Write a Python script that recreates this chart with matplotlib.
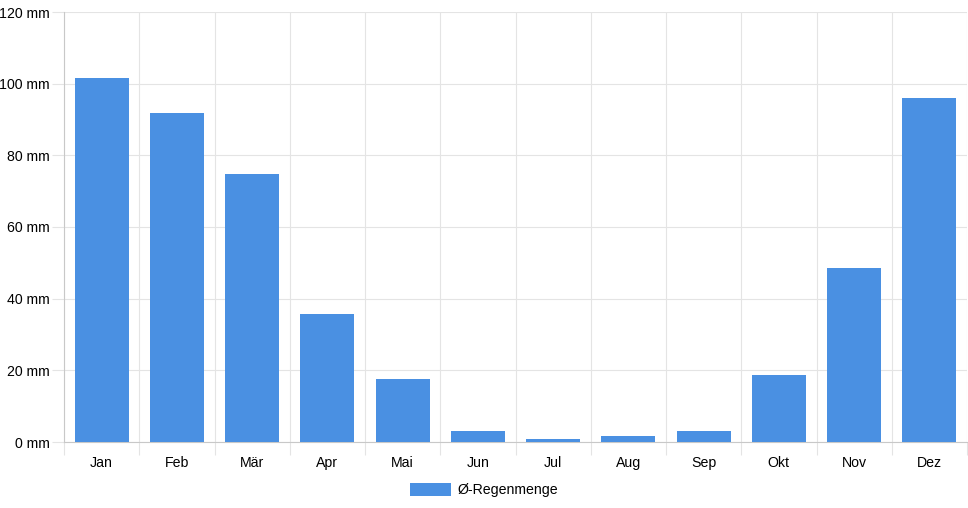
import matplotlib.pyplot as plt
import numpy as np
from matplotlib.patches import Patch

plt.rcParams['font.family'] = ['Liberation Sans', 'DejaVu Sans']

months = ['Jan', 'Feb', 'Mär', 'Apr', 'Mai', 'Jun', 'Jul', 'Aug', 'Sep', 'Okt', 'Nov', 'Dez']
rain = [101.7, 91.7, 74.8, 35.8, 17.7, 3.1, 0.8, 1.6, 3.2, 18.8, 48.6, 96.0]
series_name = 'Ø-Regenmenge'
yticks = [0, 20, 40, 60, 80, 100, 120]

bar_color = '#4a90e2'
grid_color = '#e4e4e4'
fs = 10.2

fig = plt.figure(figsize=(9.68, 5.08), dpi=100)
ax = fig.add_axes([64 / 968, 66 / 508, 903 / 968, 430 / 508])

x = np.arange(len(months))
ax.bar(x, rain, width=0.72, color=bar_color, zorder=3)

ax.set_xlim(-0.5, len(months) - 0.5)
ax.set_ylim(0, 120)

ax.set_yticks(yticks)
ax.set_yticklabels([f'{v} mm' for v in yticks])
ax.set_xticks(x)
ax.set_xticklabels(months)
ax.set_xticks(np.arange(len(months) + 1) - 0.5, minor=True)

ax.tick_params(axis='y', length=9, width=0.8, color=grid_color, labelsize=fs, pad=1.5)
ax.tick_params(axis='x', which='major', length=0, labelsize=fs, pad=10)
ax.tick_params(axis='x', which='minor', length=9, width=0.8, color=grid_color)

ax.grid(axis='y', color=grid_color, linewidth=0.8, zorder=0)
ax.grid(axis='x', which='minor', color=grid_color, linewidth=0.8, zorder=0)

for side in ['top', 'right']:
    ax.spines[side].set_visible(False)
ax.spines['left'].set_color('#c8c8c8')
ax.spines['bottom'].set_color('#c8c8c8')
ax.spines['left'].set_linewidth(0.8)
ax.spines['bottom'].set_linewidth(0.8)

fig.legend(handles=[Patch(facecolor=bar_color, label=series_name)],
           loc='center', bbox_to_anchor=(484 / 968, 18 / 508), frameon=False,
           fontsize=fs, handlelength=2.9, handleheight=1.0, handletextpad=0.5)

fig.savefig('out.png', dpi=100)
